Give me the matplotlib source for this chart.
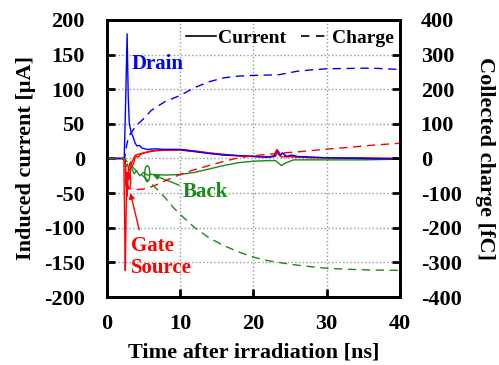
import matplotlib.pyplot as plt
from matplotlib.patches import Ellipse

plt.rcParams['font.family'] = ['Liberation Serif', 'DejaVu Serif']
plt.rcParams['font.weight'] = 'bold'
plt.rcParams['axes.labelweight'] = 'bold'
plt.rcParams['axes.unicode_minus'] = False

# currents [uA] vs time [ns]
t_drain = [0, 2.35, 2.5, 2.75, 2.9, 3.05, 3.3, 3.6, 3.85, 4.1, 4.4, 4.8, 5.5, 6.5, 8, 10, 12, 14, 16, 18,
           20, 22, 22.8, 23.2, 23.6, 24.0, 24.5, 25.2, 26, 28, 30, 35, 40]
i_drain = [0, 0, 60, 180, 90, 50, 38, 30, 22, 18, 19, 15, 13, 14, 13, 13, 10, 7, 5, 4,
           3, 2, 3, 10, 4, 8, 3, 5, 3, 2, 1, 0, -1]

t_source = [0, 2.3, 2.4, 2.5, 2.6, 2.7, 2.85, 3.0, 3.2, 3.4, 3.6, 3.8, 4.0, 4.3, 4.6, 5, 6, 7, 8, 10,
            12, 14, 16, 18, 20, 22, 22.8, 23.2, 23.6, 24, 24.5, 25, 26, 28, 30, 35, 40]
i_source = [0, 0, -80, -162, -90, -20, -30, -12, -5, -12, -8, 0, 3, 2, 6, 8, 10, 12, 13, 13,
            11, 8, 5, 4, 3, 2, 4, 13, 5, 8, 2, 3, 2, 1, 1, 0, 0]

t_gate = [0, 2.4, 2.55, 2.7, 2.8, 2.95, 3.1, 3.3, 3.5, 3.8, 4.2, 5, 6, 8, 10, 12, 14, 16, 18, 20,
          22, 23, 23.4, 23.8, 24.5, 26, 30, 35, 40]
i_gate = [0, 0, -15, -55, -40, -20, -30, -8, -3, 4, 6, 8, 11, 12, 12, 10, 8, 6, 4, 3,
          2, 3, 11, 2, 3, 2, 1, 1, 0]

t_back = [0, 2.4, 2.6, 2.8, 3.0, 3.3, 3.7, 4.0, 4.5, 5, 5.5, 6, 8, 10, 12, 14, 16, 18, 20, 22,
          23, 23.8, 24.5, 25.5, 30, 35, 40]
i_back = [0, 0, -12, -8, -18, -12, -22, -18, -25, -20, -24, -23, -24, -23, -20, -15, -10, -6, -4, -3,
          -3, -10, -6, -2, -2, -2, -1]

# collected charge [fC]
tq_drain = [0, 2.4, 2.7, 3.0, 3.5, 4, 5, 6, 7, 8, 10, 12, 14, 16, 18, 20, 22, 23.5, 24.5, 26,
            28, 30, 33, 36, 40]
q_drain = [0, 0, 40, 65, 80, 95, 115, 138, 152, 165, 182, 205, 222, 233, 238, 240, 241, 242, 246, 252,
           256, 259, 260, 261, 257]

tq_source = [0, 2.4, 2.6, 2.8, 3.0, 3.5, 4, 5, 6, 7, 8, 10, 12, 14, 16, 18, 20, 22, 24, 26,
             28, 30, 33, 36, 40]
q_source = [0, 0, -50, -75, -85, -90, -90, -88, -82, -74, -64, -46, -32, -20, -8, 2, 8, 12, 16, 19,
            23, 27, 32, 38, 44]

tq_back = [0, 2.4, 2.7, 3, 3.5, 4, 5, 6, 7, 8, 9, 10, 12, 14, 16, 18, 20, 22, 24, 26,
           28, 30, 33, 36, 40]
q_back = [0, 0, -8, -15, -25, -35, -52, -72, -92, -115, -140, -162, -200, -230, -252, -270, -285, -295, -302, -308,
          -313, -317, -320, -322, -323]

blue, red, green = '#0000ff', '#ff0000', '#1a8a1a'

fig = plt.figure(figsize=(4.99, 3.65), dpi=100)
ax = fig.add_axes([0.2144, 0.1863, 0.587, 0.759])
ax2 = ax.twinx()

ax.plot(t_back, i_back, color=green, lw=1)
ax.plot(t_gate, i_gate, color=red, lw=1)
ax.plot(t_source, i_source, color=red, lw=1)
ax.plot(t_drain, i_drain, color=blue, lw=1)

ax2.plot(tq_drain, q_drain, color=blue, lw=1, dashes=(6, 4))
ax2.plot(tq_source, q_source, color=red, lw=1, dashes=(6, 4))
ax2.plot(tq_back, q_back, color=green, lw=1, dashes=(6, 4))

ax.set_xlim(0, 40)
ax.set_ylim(-200, 200)
ax2.set_ylim(-400, 400)
ax.set_xticks([0, 10, 20, 30, 40])
ax.set_yticks(range(-200, 201, 50))
ax2.set_yticks(range(-400, 401, 100))
ax.grid(True, color='#999999', ls=':', lw=1)

for a in (ax, ax2):
    a.tick_params(direction='in', length=6, width=2, labelsize=16)
    for s in a.spines.values():
        s.set_linewidth(2)
    for lab in a.get_xticklabels() + a.get_yticklabels():
        lab.set_fontweight('bold')
ax.tick_params(top=False, right=False)
ax.tick_params(axis='x', pad=12)
ax.tick_params(axis='y', pad=16)
ax2.tick_params(axis='y', pad=15)

ax.set_xlabel('Time after irradiation [ns]', fontsize=16, labelpad=6)
ax.set_ylabel('Induced current [μA]', fontsize=16, labelpad=6)
ax2.set_ylabel('Collected charge [fC]', fontsize=16, rotation=270, labelpad=24)

# annotations
ax.text(3.4, 137, 'Drain', color=blue, fontsize=15, va='center')
ax.text(10.3, -49, 'Back', color=green, fontsize=15, va='center')
ax.text(3.3, -126, 'Gate', color=red, fontsize=15, va='center')
ax.text(3.3, -158, 'Source', color=red, fontsize=15, va='center')
ax.add_patch(Ellipse((5.5, -22), 0.7, 23, fill=False, color=green, lw=1))
ax.add_patch(Ellipse((2.9, -33), 0.7, 22, fill=False, color=red, lw=1))
ax.annotate('', xy=(5.9, -22), xytext=(10.2, -40),
            arrowprops=dict(arrowstyle='-|>', color=green, lw=1, mutation_scale=8))
ax.annotate('', xy=(3.1, -46), xytext=(4.5, -107),
            arrowprops=dict(arrowstyle='-|>', color=red, lw=1, mutation_scale=8))

h1, = ax.plot([], [], color='black', lw=1.2)
h2, = ax.plot([], [], color='black', lw=1.2, dashes=(5, 4))
ax.legend([h1, h2], ['Current', 'Charge'], loc='upper right', ncol=2, frameon=False,
          handlelength=1.5, handletextpad=0.1, columnspacing=0.8,
          bbox_to_anchor=(1.04, 1.03), prop={'weight': 'bold', 'size': 14})

fig.savefig('out.png', dpi=100)
